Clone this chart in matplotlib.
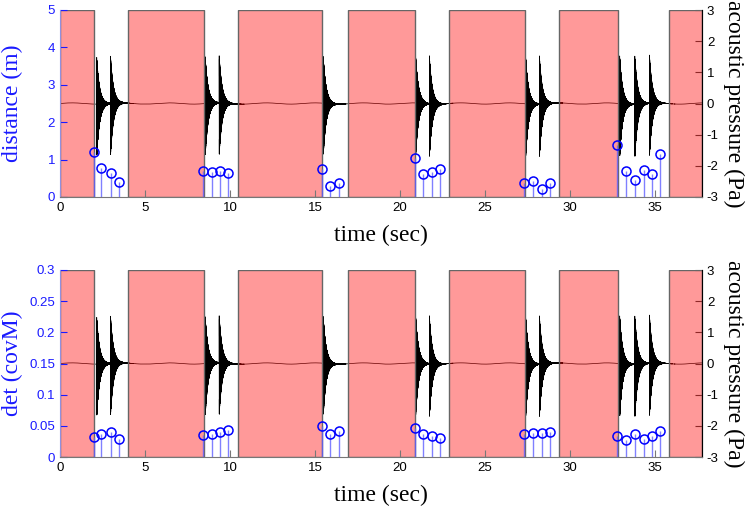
import numpy as np
import matplotlib
matplotlib.use("Agg")
import matplotlib.pyplot as plt

plt.rcParams["axes.unicode_minus"] = False

# quiet intervals (shaded red), seconds
quiet_start = [0.0, 4.0, 10.44, 16.91, 22.87, 29.34, 35.81]
quiet_end = [2.0, 8.44, 15.40, 20.89, 27.34, 32.81, 37.75]

# tap detections
tap_times = [1.97, 2.44, 2.97, 3.46,
             8.42, 8.91, 9.42, 9.89,
             15.40, 15.87, 16.38,
             20.87, 21.34, 21.87, 22.36,
             27.30, 27.84, 28.34, 28.84,
             32.75, 33.30, 33.81, 34.32, 34.81, 35.30]
distance = [1.21, 0.78, 0.63, 0.39,
            0.70, 0.66, 0.70, 0.63,
            0.74, 0.30, 0.37,
            1.03, 0.61, 0.68, 0.76,
            0.38, 0.44, 0.22, 0.37,
            1.39, 0.70, 0.46, 0.73, 0.61, 1.16]
det_cov = [0.032, 0.0365, 0.040, 0.029,
           0.035, 0.0375, 0.040, 0.043,
           0.050, 0.0375, 0.041,
           0.047, 0.037, 0.034, 0.031,
           0.0365, 0.0386, 0.0386, 0.040,
           0.034, 0.027, 0.0375, 0.029, 0.033, 0.041]

# acoustic bursts: onset (s) and peak amplitude (Pa)
burst_onsets = [2.16, 2.97, 8.54, 9.36, 15.48, 20.91, 21.72,
                27.38, 28.19, 32.91, 33.80, 34.66]
burst_peaks = [1.52, 1.52, 1.52, 1.52, 1.52, 1.55, 1.55,
               1.55, 1.55, 1.55, 1.55, 1.55]
decay_tau = 0.17
t_end = 37.75

# build pressure trace
fs = 4000
t = np.arange(0, t_end, 1 / fs)
env = np.zeros_like(t)
for t0, a in zip(burst_onsets, burst_peaks):
    m = t >= t0
    env[m] += a * np.exp(-(t[m] - t0) / decay_tau)
osc = np.sin(2 * np.pi * 900 * t)
osc = np.where(osc < 0, osc * 1.12, osc)
pressure = env * osc + 0.02 * np.sin(2 * np.pi * 0.35 * t)

serif = "Liberation Serif"
sans = "Liberation Sans"
blue = "#1a1aff"

fig = plt.figure(figsize=(7.48, 5.09), dpi=100)


def make_panel(rect, values, ylim, yticks, yticklabels, ylabel):
    ax = fig.add_axes(rect)
    ax2 = ax.twinx()

    ax2.plot(t, pressure, color="black", lw=0.5, zorder=1)
    for s, e in zip(quiet_start, quiet_end):
        ax2.axvspan(s, e, facecolor=(1, 0, 0, 0.4), edgecolor="#666666", lw=1.0, zorder=2)
    ax2.set_ylim(-3, 3)
    ax2.set_yticks(range(-3, 4))

    ml, sl, bl = ax.stem(tap_times, values, basefmt=" ")
    plt.setp(sl, color="#6060ff", lw=1.0, alpha=0.8)
    plt.setp(ml, marker="o", markerfacecolor="none", markeredgecolor="blue",
             markersize=6.5, markeredgewidth=1.1)
    ax.set_zorder(ax2.get_zorder() + 1)
    ax.patch.set_visible(False)

    ax.set_xlim(0, t_end)
    ax.set_ylim(*ylim)
    ax.set_yticks(yticks)
    ax.set_yticklabels(yticklabels)
    ax.set_xticks(range(0, 40, 5))

    for a in (ax, ax2):
        a.spines["top"].set_visible(False)
        for lab in a.get_xticklabels() + a.get_yticklabels():
            lab.set_fontfamily(sans)
            lab.set_fontsize(9.5)
    ax.spines["left"].set_color("#9090e0")
    ax.spines["bottom"].set_color("#777777")
    ax2.spines["left"].set_visible(False)
    ax2.spines["bottom"].set_visible(False)
    ax2.spines["right"].set_color("#444444")
    ax.tick_params(axis="y", direction="in", colors=blue, length=5)
    ax.tick_params(axis="x", direction="in", colors="#777777", labelcolor="black", length=5)
    ax2.tick_params(axis="y", direction="in", colors="#444444", labelcolor="black", length=5)

    ax.set_ylabel(ylabel, fontfamily=serif, fontsize=17, color=blue)
    ax.yaxis.set_label_coords(-0.057, 0.5)
    ax.set_xlabel("time (sec)", fontfamily=serif, fontsize=17, labelpad=8)
    ax2.set_ylabel("acoustic pressure (Pa)", fontfamily=serif, fontsize=17,
                   rotation=270, labelpad=18)
    return ax


W, H = 748, 509
make_panel([60 / W, 1 - 197 / H, 642 / W, 187 / H], distance, (0, 5),
           range(0, 6), [str(v) for v in range(0, 6)], "distance (m)")
make_panel([60 / W, 1 - 457 / H, 642 / W, 187 / H], det_cov, (0, 0.3),
           np.arange(0, 0.31, 0.05),
           ["0", "0.05", "0.1", "0.15", "0.2", "0.25", "0.3"], "det (covM)")

fig.savefig("out.png", dpi=100)
